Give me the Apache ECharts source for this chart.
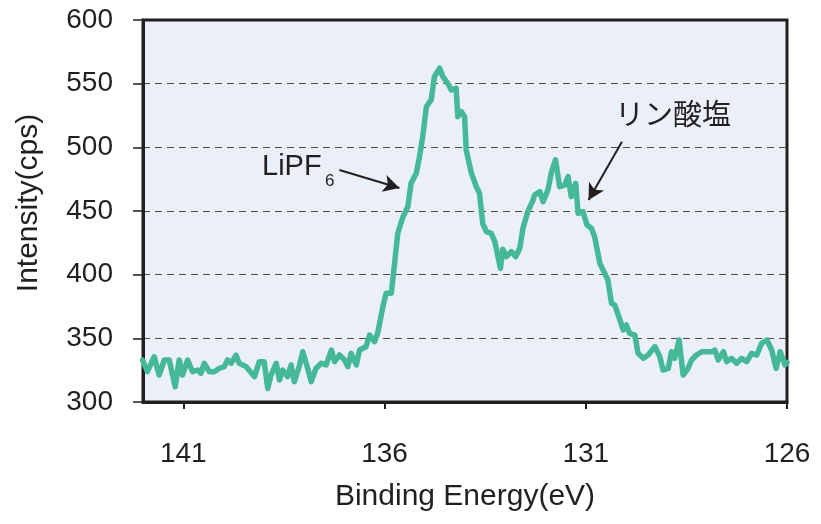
<!DOCTYPE html>
<html>
<head>
<meta charset="utf-8">
<script src="https://cdn.jsdelivr.net/npm/echarts@6/dist/echarts.min.js"></script>
<style>
html,body{margin:0;padding:0;background:#fff;}
#chart{width:821px;height:524px;}
</style>
</head>
<body>
<div id="chart"></div>
<script>
// Binding energy (eV) and intensity (cps)
var energy = [
  142.01,141.89,141.72,141.60,141.47,141.35,141.20,141.10,141.02,140.89,
  140.77,140.64,140.56,140.48,140.35,140.23,140.10,139.98,139.90,139.81,
  139.69,139.61,139.44,139.23,139.11,138.99,138.90,138.82,138.69,138.61,
  138.53,138.41,138.32,138.24,138.12,138.03,137.91,137.82,137.70,137.57,
  137.45,137.32,137.24,137.12,136.99,136.91,136.83,136.70,136.62,136.46,
  136.37,136.25,136.17,136.04,135.96,135.83,135.75,135.67,135.54,135.42,
  135.34,135.21,135.13,135.05,134.96,134.84,134.76,134.63,134.55,134.43,
  134.34,134.22,134.18,134.09,134.01,133.97,133.84,133.72,133.64,133.56,
  133.47,133.35,133.26,133.18,133.12,133.06,132.97,132.85,132.74,132.64,
  132.56,132.44,132.31,132.27,132.14,132.06,131.94,131.85,131.75,131.65,
  131.52,131.44,131.36,131.25,131.19,131.07,130.97,130.86,130.78,130.65,
  130.53,130.45,130.36,130.28,130.15,130.07,129.99,129.91,129.78,129.70,
  129.57,129.45,129.28,129.16,129.08,128.95,128.87,128.79,128.68,128.58,
  128.46,128.37,128.25,128.12,128.00,127.87,127.79,127.71,127.58,127.50,
  127.38,127.25,127.13,127.00,126.88,126.75,126.63,126.50,126.38,126.27,
  126.17,126.05,126.00
];
var intensity = [
  333.0,323.8,335.6,321.2,333.0,333.0,312.0,333.0,321.2,333.0,
  323.8,325.1,322.5,330.4,323.8,323.8,326.5,327.8,333.0,330.4,
  336.9,330.4,327.8,319.9,331.7,331.7,310.7,321.2,330.4,317.3,
  325.1,319.9,329.1,316.0,327.8,339.5,326.5,316.0,326.5,330.4,
  329.1,340.8,331.7,336.9,333.0,327.8,338.2,329.1,340.8,343.4,
  352.6,347.4,354.0,374.9,385.4,385.4,408.9,432.5,445.5,453.4,
  471.7,479.6,492.6,508.4,531.9,537.2,555.5,562.1,555.5,550.3,
  545.0,546.4,524.1,528.0,524.1,497.9,479.6,469.1,463.9,440.3,
  433.8,432.5,425.9,414.1,405.0,420.0,414.1,418.1,414.1,420.7,
  436.4,449.5,458.6,462.6,465.2,457.3,466.5,480.9,490.1,469.1,
  470.4,477.0,461.3,471.7,448.2,449.5,439.0,436.4,429.9,408.9,
  401.1,395.8,377.5,376.2,364.4,356.6,360.5,353.9,352.6,338.2,
  334.3,336.9,343.5,335.6,325.1,326.4,339.5,334.3,348.7,321.2,
  326.4,333.0,336.9,339.5,339.5,339.5,340.8,333.0,339.5,331.7,
  334.3,330.4,334.3,331.7,338.2,336.9,346.1,348.7,340.8,326.4,
  339.5,329.1,331.0
];
var xTicks = [141, 136, 131, 126];
var yMin = 300, yMax = 600, yStep = 50;
var xAxisName = 'Binding Energy(eV)';
var yAxisName = 'Intensity(cps)';
// annotation arrows [from, to] in data coordinates
var arrowLiPF6 = [[137.12, 482.2], [135.63, 468.1]];
var arrowPhos = [[130.10, 504.4], [130.93, 458.6]];

var ink = '#231f20';
var font = 'Liberation Sans, Arial, sans-serif';
var seriesData = energy.map(function (e, i) { return [e, intensity[i]]; });

var chart = echarts.init(document.getElementById('chart'), null, {renderer: 'canvas'});
chart.setOption({
  animation: false,
  backgroundColor: '#ffffff',
  textStyle: {fontFamily: font, color: ink},
  grid: {
    left: 143, right: 34, top: 20, bottom: 122,
    show: true, backgroundColor: '#eaeff9', borderColor: ink, borderWidth: 3
  },
  xAxis: {
    type: 'value', min: 126, max: 142, inverse: true,
    name: xAxisName, nameLocation: 'middle', nameGap: 80,
    nameTextStyle: {fontSize: 30, color: ink, fontFamily: font},
    axisLine: {show: true, onZero: false, lineStyle: {color: ink, width: 3}},
    axisTick: {show: true, inside: false, length: 7, lineStyle: {color: ink, width: 2}, customValues: xTicks},
    axisLabel: {fontSize: 28, color: ink, margin: 38, customValues: xTicks},
    splitLine: {show: false}
  },
  yAxis: {
    type: 'value', min: yMin, max: yMax, interval: yStep,
    name: yAxisName, nameLocation: 'middle', nameGap: 99,
    nameTextStyle: {fontSize: 30, color: ink, fontFamily: font, padding: [0, 0, 0, 16]},
    axisLine: {show: true, onZero: false, lineStyle: {color: ink, width: 3}},
    axisTick: {show: true, inside: false, length: 10, lineStyle: {color: ink, width: 1.5}},
    axisLabel: {fontSize: 28, color: ink, margin: 30},
    splitLine: {show: true, showMinLine: false, showMaxLine: false,
      lineStyle: {color: '#4d4d4d', width: 1.2, type: [7, 5]}}
  },
  series: [{
    type: 'line',
    data: seriesData,
    showSymbol: false,
    symbol: 'none',
    clip: true,
    lineStyle: {color: '#45b898', width: 5.5, join: 'round', cap: 'round'},
    markLine: {
      silent: true,
      symbol: ['none', 'arrow'],
      symbolSize: [13, 16],
      label: {show: false},
      emphasis: {disabled: true},
      lineStyle: {color: ink, width: 2, type: 'solid'},
      data: [
        [{coord: arrowLiPF6[0]}, {coord: arrowLiPF6[1]}],
        [{coord: arrowPhos[0]}, {coord: arrowPhos[1]}]
      ]
    }
  }],
  graphic: [
    {type: 'text', left: 262, top: 152, silent: true,
      style: {text: 'LiPF', fontSize: 29, fill: ink, fontFamily: font}},
    {type: 'text', left: 325, top: 173, silent: true,
      style: {text: '6', fontSize: 17, fill: ink, fontFamily: font}},
    {type: 'text', left: 615, top: 99, silent: true,
      style: {text: 'リン酸塩', fontSize: 29, fill: ink, fontFamily: 'Noto Sans CJK JP, sans-serif'}}
  ]
});
</script>
</body>
</html>
